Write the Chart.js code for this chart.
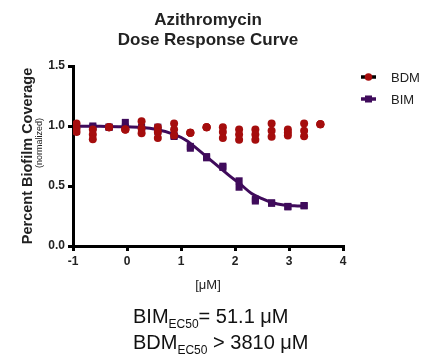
<!DOCTYPE html>
<html>
<head>
<meta charset="utf-8">
<script src="https://cdn.jsdelivr.net/npm/chart.js@4.4.0/dist/chart.umd.min.js"></script>
<style>
body{margin:0;background:#fff;}
#wrap{position:relative;width:427px;height:358px;}
.ec{position:absolute;left:133px;font-family:"Liberation Sans",Arial,sans-serif;font-size:20px;line-height:22px;color:#111;white-space:nowrap;}
.ec sub{font-size:12px;vertical-align:baseline;position:relative;top:5px;}
</style>
</head>
<body>
<div id="wrap">
<canvas id="doseChart" width="427" height="358"></canvas>
<div class="ec" style="top:305px">BIM<sub>EC50</sub>= 51.1 μM</div>
<div class="ec" style="top:331px">BDM<sub>EC50</sub> &gt; 3810 μM</div>
</div>
<script>
// log10 of the concentrations (µM), 2-fold dilutions from 3810
var logDose = [-0.935, -0.633, -0.332, -0.031, 0.270, 0.571, 0.872, 1.173, 1.474, 1.775, 2.076, 2.377, 2.678, 2.979, 3.280, 3.581];

// BDM replicates
var bdmRep1 = [1.02, 0.97, 0.99, 0.97, 1.04, 0.99, 1.02, 0.944, 0.989, 0.99, 0.97, 0.97, 1.02, 0.97, 1.02, 1.014];
var bdmRep2 = [0.98, 0.93, 0.99, 0.97, 0.98, 0.95, 0.97, 0.944, 0.989, 0.95, 0.93, 0.93, 0.96, 0.945, 0.96, 1.014];
var bdmRep3 = [0.95, 0.89, 0.99, 0.97, 0.94, 0.90, 0.92, 0.944, 0.989, 0.90, 0.885, 0.885, 0.91, 0.92, 0.915, 1.014];

// BIM replicates (no point at the top dose)
var bimRep1 = [1.00, 1.00, 0.99, 1.03, 0.99, 0.99, 0.913, 0.83, 0.745, 0.665, 0.543, 0.39, 0.36, 0.33, 0.337, null];
var bimRep2 = [0.955, 0.99, 0.99, 0.99, 0.97, 0.955, 0.92, 0.815, 0.735, 0.655, 0.49, 0.375, 0.356, 0.326, 0.335, null];

// BIM fitted curve
var fitX = [-1.0, -0.5, 0.0, 0.5, 0.87, 1.1, 1.3, 1.5, 1.7, 1.9, 2.1, 2.3, 2.5, 2.7, 2.9, 3.1, 3.3];
var fitY = [0.998, 0.997, 0.993, 0.975, 0.93, 0.88, 0.81, 0.735, 0.66, 0.585, 0.515, 0.44, 0.395, 0.36, 0.342, 0.335, 0.332];

var yTicks = [0, 0.5, 1.0, 1.5];
var xTicks = [-1, 0, 1, 2, 3, 4];

var red = '#a50d0d';
var purple = '#3f0b5b';

function toPoints(xs, ys) {
	var out = [];
	for (var i = 0; i < xs.length; i++) {
		if (ys[i] !== null) out.push({x: xs[i], y: ys[i]});
	}
	return out;
}

var bdmPoints = toPoints(logDose, bdmRep1).concat(toPoints(logDose, bdmRep2), toPoints(logDose, bdmRep3));
var bimPoints = toPoints(logDose, bimRep1).concat(toPoints(logDose, bimRep2));
var fitPoints = toPoints(fitX, fitY);

var FONT = '"Liberation Sans", Arial, sans-serif';

// titles, axis names and legend
var textPlugin = {
	id: 'doseText',
	afterDraw: function(chart) {
		var ctx = chart.ctx;
		ctx.save();
		ctx.fillStyle = '#222';
		ctx.textAlign = 'center';
		ctx.textBaseline = 'alphabetic';
		ctx.font = 'bold 17px ' + FONT;
		ctx.fillText('Azithromycin', 208, 25);
		ctx.fillText('Dose Response Curve', 208, 45);
		ctx.font = '13px ' + FONT;
		ctx.fillText('[μM]', 208, 289);

		ctx.save();
		ctx.translate(32, 156);
		ctx.rotate(-Math.PI / 2);
		ctx.font = 'bold 14.5px ' + FONT;
		ctx.fillText('Percent Biofilm Coverage', 0, 0);
		ctx.restore();
		ctx.save();
		ctx.translate(42, 143);
		ctx.rotate(-Math.PI / 2);
		ctx.font = '9px ' + FONT;
		ctx.fillText('(normalized)', 0, 0);
		ctx.restore();

		// legend
		ctx.lineWidth = 3.5;
		ctx.strokeStyle = '#000';
		ctx.beginPath(); ctx.moveTo(361, 77); ctx.lineTo(376, 77); ctx.stroke();
		ctx.fillStyle = red;
		ctx.beginPath(); ctx.arc(368.5, 77, 3.8, 0, Math.PI * 2); ctx.fill();
		ctx.strokeStyle = purple;
		ctx.beginPath(); ctx.moveTo(361, 99); ctx.lineTo(376, 99); ctx.stroke();
		ctx.fillStyle = purple;
		ctx.fillRect(365, 95.5, 7, 7);
		ctx.fillStyle = '#222';
		ctx.textAlign = 'left';
		ctx.textBaseline = 'middle';
		ctx.font = '13px ' + FONT;
		ctx.fillText('BDM', 391, 78);
		ctx.fillText('BIM', 391, 100);
		ctx.restore();
	}
};

var popCanvas = document.getElementById("doseChart");
var doseChart = new Chart(popCanvas, {
	type: 'scatter',
	data: {
		datasets: [
		{
			label: 'BDM',
			data: bdmPoints,
			backgroundColor: red,
			borderWidth: 0,
			pointStyle: 'circle',
			pointRadius: 4,
			order: 0
		},
		{
			label: 'BIM',
			data: bimPoints,
			backgroundColor: purple,
			borderWidth: 0,
			pointStyle: 'rect',
			pointRadius: 5,
			order: 1
		},
		{
			label: 'BIM fit',
			data: fitPoints,
			showLine: true,
			borderColor: purple,
			borderWidth: 3,
			cubicInterpolationMode: 'monotone',
			pointRadius: 0,
			order: 2
		}]
	},
	options: {
		responsive: false,
		animation: false,
		events: [],
		layout: {padding: {left: 0, top: 66, right: 84, bottom: 72}},
		plugins: {legend: {display: false}, tooltip: {enabled: false}},
		scales: {
			x: {
				type: 'linear',
				min: -1, max: 4,
				afterBuildTicks: function(s) { s.ticks = xTicks.map(function(v) { return {value: v}; }); },
				afterFit: function(s) { s.height = 40; },
				grid: {drawOnChartArea: false, drawTicks: true, tickLength: 5, lineWidth: 3, color: '#000'},
				border: {display: true, width: 3, color: '#000'},
				ticks: {color: '#222', padding: 3, font: {family: FONT, size: 12, weight: 'bold'}}
			},
			y: {
				type: 'linear',
				min: 0, max: 1.5,
				afterBuildTicks: function(s) { s.ticks = yTicks.map(function(v) { return {value: v}; }); },
				afterFit: function(s) { s.width = 73; },
				grid: {drawOnChartArea: false, drawTicks: true, tickLength: 5, lineWidth: 3, color: '#000'},
				border: {display: true, width: 3, color: '#000'},
				ticks: {color: '#222', padding: 3, font: {family: FONT, size: 12, weight: 'bold'},
					callback: function(v) { return v.toFixed(1); }}
			}
		}
	},
	plugins: [textPlugin]
});
</script>
</body>
</html>
